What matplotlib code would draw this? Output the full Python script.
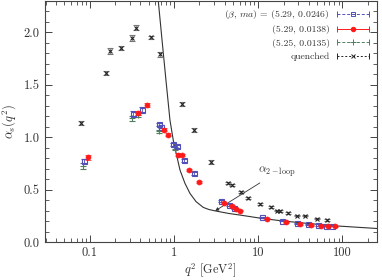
import numpy as np
import matplotlib
matplotlib.use('Agg')
import matplotlib.pyplot as plt
from matplotlib.lines import Line2D
from matplotlib.legend_handler import HandlerBase

plt.rcParams['font.family'] = 'cmr10'
plt.rcParams['mathtext.fontset'] = 'cm'
plt.rcParams['axes.unicode_minus'] = False

# ---- data ----
blue_q2 = [0.085, 0.33, 0.42, 0.66, 0.71, 0.98, 1.1, 1.33, 1.73, 3.63, 4.48, 5.2,
           11.1, 19.0, 28.8, 39.0, 51.0, 63.0, 75.0]
blue_a = [0.77, 1.226, 1.264, 1.124, 1.10, 0.933, 0.914, 0.78, 0.654, 0.395, 0.352, 0.322,
          0.235, 0.202, 0.18, 0.17, 0.162, 0.157, 0.157]
blue_err = [0.02, 0.02, 0.02, 0.015, 0.015, 0.015, 0.015, 0.012, 0.012, 0.01, 0.01, 0.01,
            0.008, 0.006, 0.006, 0.006, 0.006, 0.006, 0.006]

red_q2 = [0.095, 0.376, 0.473, 0.76, 0.84, 1.13, 1.23, 1.5, 1.98, 3.97, 4.86, 5.5, 6.16,
          12.7, 21.6, 31.6, 42.6, 55.0, 68.0, 81.0]
red_a = [0.81, 1.23, 1.31, 1.073, 1.025, 0.835, 0.829, 0.688, 0.571, 0.368, 0.343, 0.315, 0.30,
         0.224, 0.188, 0.172, 0.162, 0.155, 0.152, 0.151]
red_err = [0.025, 0.02, 0.02, 0.015, 0.012, 0.012, 0.012, 0.01, 0.01, 0.008, 0.008, 0.008, 0.008,
           0.006, 0.006, 0.005, 0.005, 0.005, 0.005, 0.005]

green_q2 = [0.084, 0.32, 0.37, 0.67, 1.03]
green_a = [0.724, 1.18, 1.21, 1.057, 0.89]
green_err = [0.03, 0.025, 0.02, 0.015, 0.015]

q_q2 = [0.078, 0.155, 0.176, 0.234, 0.313, 0.35, 0.53, 0.69, 1.23, 1.73, 2.73, 4.4, 4.85,
        6.2, 7.5, 10.5, 14.2, 16.5, 18.3, 22.6, 29.0, 35.8, 49.5, 66.0]
q_a = [1.136, 1.61, 1.82, 1.85, 1.95, 2.045, 1.955, 1.79, 1.317, 1.067, 0.76, 0.565, 0.54,
       0.476, 0.42, 0.36, 0.336, 0.298, 0.296, 0.276, 0.252, 0.25, 0.222, 0.21]
q_err = [0.02, 0.02, 0.03, 0.02, 0.03, 0.025, 0.015, 0.02, 0.02, 0.02, 0.02, 0.01, 0.01,
         0.008, 0.008, 0.008, 0.008, 0.006, 0.006, 0.006, 0.006, 0.006, 0.006, 0.006]

curve_q2 = [0.650, 0.720, 0.803, 0.896, 0.981, 1.028, 1.179, 1.35, 1.55, 1.83, 2.23, 2.6,
            3.08, 4.5, 6.1, 11.1, 20.0, 38.0, 91.0, 280.0]
curve_a = [2.305, 1.933, 1.543, 1.162, 0.971, 0.895, 0.686, 0.56, 0.463, 0.385, 0.33, 0.31,
           0.297, 0.272, 0.257, 0.225, 0.20, 0.178, 0.152, 0.127]

labels = [r'($\beta$, $ma$) = (5.29, 0.0246)', '(5.29, 0.0138)', '(5.25, 0.0135)', 'quenched']
xticks = [0.1, 1, 10, 100]
xtick_labels = ['0.1', '1', '10', '100']
yticks = [0.0, 0.5, 1.0, 1.5, 2.0]

# ---- styles ----
c_blue = '#5050b8'
c_red = '#ff1a1a'
c_green = '#4f7f5f'
c_black = '#222222'

fig = plt.figure(figsize=(3.82, 2.80), dpi=100)
ax = fig.add_axes([0.1165, 0.1357, 0.8695, 0.8607])
ax.set_xscale('log')
ax.set_xlim(0.029, 255)
ax.set_ylim(0, 2.3)

ax.plot(curve_q2, curve_a, color='#333333', lw=0.8, zorder=2)

ax.errorbar(q_q2, q_a, yerr=q_err, fmt='x', color=c_black, ms=3.2, mew=0.8,
            ecolor='#777777', elinewidth=0.6, capsize=2.4, capthick=0.6, zorder=3)
ax.errorbar(green_q2, green_a, yerr=green_err, fmt='+', color=c_green, ms=4.5, mew=0.8,
            ecolor=c_green, elinewidth=0.6, capsize=2.4, capthick=0.6, zorder=4)
ax.errorbar(blue_q2, blue_a, yerr=blue_err, fmt='s', color=c_blue, mfc='none', ms=3.6, mew=0.8,
            ecolor=c_blue, elinewidth=0.6, capsize=2.4, capthick=0.6, zorder=5)
ax.errorbar(red_q2, red_a, yerr=red_err, fmt='o', color=c_red, ms=3.6, mew=0.5,
            ecolor=c_red, elinewidth=0.6, capsize=2.4, capthick=0.6, zorder=6)

ax.annotate(r'$\alpha_{2-\mathrm{loop}}$', xy=(3.08, 0.297), xytext=(10.0, 0.667),
            fontsize=8.5, color='#333333', ha='left', va='center',
            arrowprops=dict(arrowstyle='-|>', color='#333333', lw=0.6,
                            mutation_scale=5, shrinkA=1, shrinkB=0))

ax.set_xticks(xticks)
ax.set_xticklabels(xtick_labels)
ax.set_yticks(yticks)
ax.set_yticklabels(['%.1f' % v for v in yticks])
ax.yaxis.set_minor_locator(matplotlib.ticker.MultipleLocator(0.1))
ax.xaxis.set_minor_locator(matplotlib.ticker.LogLocator(base=10, subs=np.arange(2, 10)))
ax.xaxis.set_minor_formatter(matplotlib.ticker.NullFormatter())
ax.tick_params(which='both', direction='in', top=True, right=True, colors='#444444',
               labelcolor='#333333', labelsize=9)
ax.tick_params(which='major', length=5, width=0.7)
ax.tick_params(which='minor', length=3, width=0.6)
for s in ax.spines.values():
    s.set_color('#444444')
    s.set_linewidth(0.8)

ax.set_xlabel(r'$q^2$ [GeV$^2$]', fontsize=8.8, color='#333333', labelpad=1.5)
ax.set_ylabel(r'$\alpha_s(q^2)$', fontsize=9, color='#333333', labelpad=4)


class ErrHandler(HandlerBase):
    def __init__(self, color, ls, marker, mfc, ms):
        super().__init__()
        self.color, self.ls, self.marker, self.mfc, self.ms = color, ls, marker, mfc, ms

    def create_artists(self, legend, orig_handle, xdescent, ydescent, width, height,
                       fontsize, trans):
        y = height / 2 - ydescent
        x0, x1 = -xdescent, -xdescent + width
        ln = Line2D([x0, x1], [y, y], color=self.color, ls=self.ls, lw=0.7)
        caps = Line2D([x0, x1], [y, y], ls='none', marker='|', ms=5, mew=0.7, color=self.color)
        mk = Line2D([(x0 + x1) / 2], [y], ls='none', marker=self.marker, ms=self.ms,
                    mfc=self.mfc, mec=self.color, mew=0.7)
        for a in (ln, caps, mk):
            a.set_transform(trans)
        return [ln, caps, mk]


h = [Line2D([], []) for _ in range(4)]
hmap = {h[0]: ErrHandler(c_blue, (0, (3, 2)), 's', 'none', 3.2),
        h[1]: ErrHandler(c_red, '-', 'o', c_red, 3.2),
        h[2]: ErrHandler(c_green, (0, (3, 2)), '+', c_green, 4),
        h[3]: ErrHandler(c_black, (0, (2, 2)), 'x', c_black, 3)}
leg = ax.legend(h, labels, handler_map=hmap, loc='upper right', frameon=False,
                markerfirst=False, fontsize=7, handlelength=3.3, labelspacing=0.45,
                handletextpad=0.7, borderaxespad=0.4)
for t in leg.get_texts():
    t.set_color('#333333')

fig.savefig('out.png', dpi=100)
